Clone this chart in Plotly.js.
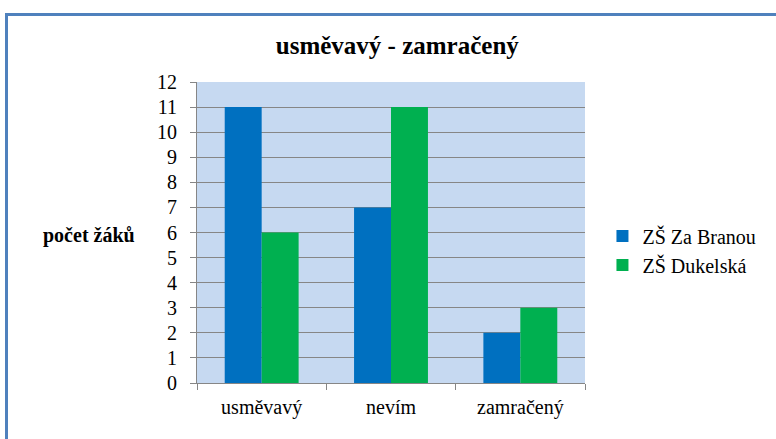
<!DOCTYPE html>
<html><head><meta charset="utf-8">
<script src="https://cdn.plot.ly/plotly-3.0.1.min.js"></script>
<style>
html,body{margin:0;padding:0;background:#fff;overflow:hidden;}
#wrap{position:relative;width:776px;height:439px;}
#chart{width:776px;height:439px;}
#frame{position:absolute;left:5px;top:13px;width:800px;height:460px;border:3px solid #4F81BD;pointer-events:none;box-sizing:border-box;}
</style></head>
<body><div id="wrap"><div id="chart"></div><div id="frame"></div></div>
<script>
const categories = ["usměvavý", "nevím", "zamračený"];
const seriesNames = ["ZŠ Za Branou", "ZŠ Dukelská"];
const zaBranou = [11, 7, 2];
const dukelska = [6, 11, 3];
const yTicks = [0,1,2,3,4,5,6,7,8,9,10,11,12];

const font = "Liberation Serif";
const traces = [
  {type:"bar", name:seriesNames[0], x:categories, y:zaBranou, marker:{color:"#0070C0"}},
  {type:"bar", name:seriesNames[1], x:categories, y:dukelska, marker:{color:"#00B050"}}
];
const layout = {
  width:776, height:439,
  margin:{l:197, r:191, t:82, b:56, pad:0},
  paper_bgcolor:"#ffffff", plot_bgcolor:"#C6D9F1",
  barmode:"group", bargap:0.4286, bargroupgap:0,
  font:{family:font, size:20, color:"#000"},
  title:{text:"<b>usměvavý - zamračený</b>", x:0.512, xanchor:"center", y:0.897, yanchor:"middle", yref:"container",
         font:{family:font, size:25, color:"#000"}},
  xaxis:{type:"category", tickson:"boundaries", ticks:"outside", ticklen:6, tickcolor:"#868686",
         showline:true, linecolor:"#868686", linewidth:1, showgrid:false, zeroline:false,
         tickfont:{family:font, size:20}, ticklabelstandoff:6},
  yaxis:{range:[0,12], tickvals:yTicks, ticktext:yTicks.map(String), ticks:"outside", ticklen:6, tickcolor:"#868686",
         showline:true, linecolor:"#868686", linewidth:1, showgrid:true, gridcolor:"#868686", gridwidth:1,
         zeroline:false, tickfont:{family:font, size:20}, ticklabelstandoff:9},
  legend:{x:1.045, xanchor:"left", y:0.44, yanchor:"middle", bgcolor:"rgba(0,0,0,0)",
          font:{family:font, size:20}, tracegroupgap:15, itemwidth:30},
  annotations:[{text:"<b>počet žáků</b>", xref:"paper", yref:"paper", x:-0.155, y:0.49, xanchor:"right", yanchor:"middle",
                showarrow:false, font:{family:font, size:20, color:"#000"}}],
  showlegend:true
};
Plotly.newPlot("chart", traces, layout, {staticPlot:true, displayModeBar:false});
</script></body></html>
